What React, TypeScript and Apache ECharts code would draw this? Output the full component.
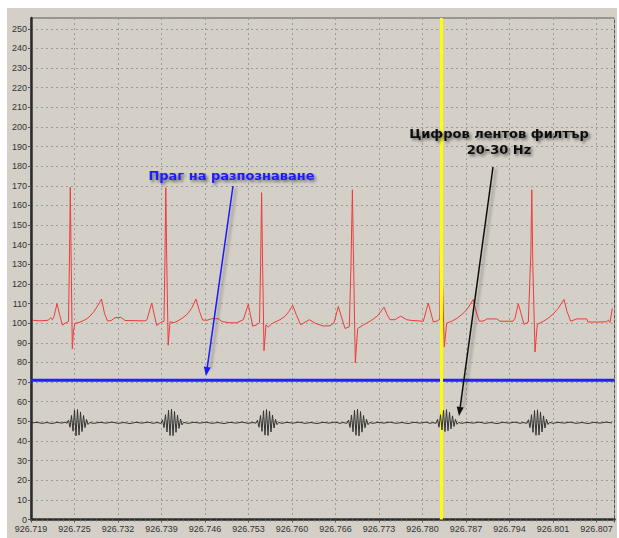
import React, { useEffect, useRef } from "react";
import * as echarts from "echarts";

// x axis: sample index; one labelled tick every tickStep samples
const xTickLabels = [
  "926.719", "926.725", "926.732", "926.739", "926.746", "926.753", "926.760",
  "926.766", "926.773", "926.780", "926.787", "926.794", "926.801", "926.807",
];
const tickStep = 43.5;
const xMax = 583.5;
const yMax = 255.5;
const yStep = 10;
const threshold = 71;
const cursorSample = 410;

const thresholdLabel = "Праг на разпознаване";
const filterLabel = "Цифров лентов филтър\n20-30 Hz";

const ecgSignal: [number, number][] = [
  [2, 101.5], [9, 101.2], [15, 101.4], [17.5, 101.6], [19.5, 102.8], [21.5, 101.8],
  [23, 103.5], [26, 110], [28.5, 104.5], [31.5, 99], [34, 100], [37.5, 100.8],
  [38.5, 135], [39.3, 169.2], [40.2, 130], [41.3, 87], [42.5, 96], [44, 100],
  [47, 100.2], [51, 101], [55, 102], [59, 103.6], [63, 106], [67, 109.2],
  [70.5, 112.3], [73.5, 105], [76.5, 101.2], [80, 101.3], [84, 102.8], [90, 103],
  [94, 101.4], [104, 101.3], [114, 101.2],
  [116, 101.8], [120.7, 110.3], [125.7, 98.8], [129.7, 100.4], [133, 101],
  [134, 135], [134.8, 169], [135.8, 130], [137.2, 88.8], [139, 100.7], [143, 100.3],
  [147, 101.2], [152, 102.8], [157, 105], [161, 108], [165, 112.3], [168.5, 106],
  [171.7, 101.6], [176, 101.5], [180.7, 102.3], [187.3, 102.3], [191, 100.8],
  [199, 100.2], [205.7, 100.2],
  [209, 101], [212.3, 101.8], [217.3, 109.7], [221.7, 98.5], [225.7, 99.2],
  [228.5, 100.2], [229.6, 130], [230.6, 166.5], [231.6, 130], [233, 86], [235, 99.2],
  [237.3, 98], [240.7, 99.7], [245, 100.8], [249, 101.8], [254, 103.5], [258, 106],
  [261.7, 109.2], [265.5, 104], [269.7, 99.2], [274, 100.5], [278.3, 101.8],
  [284, 100], [292, 98.6], [299, 98.7],
  [303, 100.2], [307.3, 108.5], [314, 97.3], [318.3, 98.2], [320, 130], [321.4, 168],
  [322.6, 130], [324.3, 79.8], [326.7, 97.3], [332.3, 99.1], [337, 100.4], [342, 102],
  [347, 104], [353, 108.2], [356, 104.5], [359, 101.8], [364, 101.8], [369.7, 103.6],
  [375.7, 101.8], [380.7, 101.4], [387, 101.2], [392.3, 101],
  [397.3, 110.3], [402.3, 100.6], [406.3, 101.2], [408.8, 102], [409.3, 135],
  [410, 169], [411, 130], [413.3, 88], [415.7, 100], [420.7, 101], [426, 102.5],
  [431, 104.5], [436, 107], [442.3, 112.1], [445, 106], [448.3, 101], [453, 101.2],
  [455.7, 102.2], [465.7, 102.2], [469, 101], [482, 101],
  [484, 102.5], [487.3, 110], [493, 99.4], [497.3, 100.6], [499.8, 135], [500.8, 168],
  [501.8, 130], [504, 85.3], [506.3, 99.4], [512.3, 101], [517, 102.5], [522, 104.6],
  [527, 107.5], [533, 112.1], [536, 106], [539.7, 101], [545.7, 102.2], [555.7, 102.2],
  [557, 100.6], [569, 100.6], [575.7, 100.8], [577.3, 101.6], [579, 100.4], [581.3, 107.5],
];

const filteredSignal: [number, number][] = [
  [1, 49.2], [6, 49.5], [11, 49.0], [16, 49.4], [21, 48.9], [26, 49.5], [31, 49.1], [34, 49.6],
  [36, 49.0], [37.5, 50.6], [39, 47.0], [40.5, 53.0], [42, 45.0], [43.5, 55.8], [45, 42.6],
  [46.5, 56.0], [48, 43.0], [49.5, 54.8], [51, 44.8], [52.5, 53.0], [54, 46.8], [55.5, 51.0],
  [57, 48.4], [58.5, 49.4],
  [63, 49.0], [69, 49.5], [75, 49.1], [81, 49.6], [87, 49.0], [93, 49.4], [99, 48.9],
  [105, 49.5], [111, 49.1], [117, 49.6], [122, 49.0], [126, 49.4],
  [130, 49.0], [131.5, 50.8], [133, 46.8], [134.5, 53.4], [136, 44.6], [137.5, 55.6],
  [139, 42.8], [140.5, 56.3], [142, 42.7], [143.5, 55.0], [145, 44.4], [146.5, 53.2],
  [148, 46.4], [149.5, 51.2], [151, 48.2], [152.5, 49.5],
  [157, 49.0], [163, 49.5], [169, 49.1], [175, 49.6], [181, 49.0], [187, 49.4],
  [193, 48.9], [199, 49.5], [205, 49.1], [211, 49.6], [217, 49.0], [222, 49.4],
  [225, 49.1], [226.5, 50.6], [228, 47.0], [229.5, 53.0], [231, 44.9], [232.5, 55.4],
  [234, 43.0], [235.5, 56.0], [237, 42.8], [238.5, 55.2], [240, 44.6], [241.5, 53.2],
  [243, 46.6], [244.5, 51.0], [246, 48.3], [247.5, 49.5],
  [251, 49.0], [256, 49.5], [262, 49.1], [268, 49.6], [274, 49.0], [280, 49.4],
  [286, 48.9], [292, 49.5], [298, 49.1], [304, 49.6], [309, 49.0], [312, 49.4],
  [316, 49.0], [317.5, 50.7], [319, 46.9], [320.5, 53.2], [322, 44.7], [323.5, 55.6],
  [325, 42.9], [326.5, 56.2], [328, 42.6], [329.5, 55.0], [331, 44.5], [332.5, 53.0],
  [334, 46.7], [335.5, 51.1], [337, 48.3], [338.5, 49.4],
  [342, 49.0], [347, 49.5], [353, 49.1], [359, 49.6], [365, 49.0], [371, 49.4],
  [377, 48.9], [383, 49.5], [389, 49.1], [395, 49.6], [399, 49.0], [402, 49.4],
  [405, 49.0], [406.5, 51.0], [408, 47.0], [409.5, 53.4], [411, 45.6], [412.5, 55.6],
  [414, 44.8], [415.5, 56.0], [417, 45.2], [418.5, 54.6], [420, 46.2], [421.5, 52.8],
  [423, 47.4], [424.5, 51.0], [426, 48.5], [427.5, 49.4],
  [431, 49.0], [436, 49.5], [442, 49.1], [448, 49.6], [454, 49.0], [460, 49.4],
  [466, 48.9], [472, 49.5], [478, 49.1], [484, 49.6], [489, 49.0], [492, 49.4],
  [496, 49.0], [497.5, 50.8], [499, 46.8], [500.5, 53.4], [502, 44.4], [503.5, 55.5],
  [505, 42.9], [506.5, 55.9], [508, 43.0], [509.5, 54.8], [511, 44.6], [512.5, 52.8],
  [514, 46.6], [515.5, 51.0], [517, 48.4], [518.5, 49.5],
  [522, 49.0], [527, 49.5], [533, 49.1], [539, 49.6], [545, 49.0], [551, 49.4],
  [557, 48.9], [563, 49.5], [569, 49.1], [575, 49.6], [581, 49.2],
];

const PANEL = "#d4d0c8";
const GRIDLINE = "#9a9a9a";
const AXIS_FONT = "'Liberation Sans', Arial, sans-serif";
const NOTE_FONT = "'DejaVu Sans', Verdana, sans-serif";

export default function App() {
  const ref = useRef<HTMLDivElement>(null);

  useEffect(() => {
    if (!ref.current) return;
    const chart = echarts.init(ref.current, null, { renderer: "svg" });

    const shadow = {
      shadowColor: "rgba(0,0,0,0.35)",
      shadowBlur: 3,
      shadowOffsetX: 3,
      shadowOffsetY: 2,
    };

    chart.setOption({
      animation: false,
      backgroundColor: "transparent",
      grid: {
        left: 31,
        top: 18,
        right: 4.5,
        bottom: 18.5,
        show: true,
        backgroundColor: PANEL,
        borderColor: "#5a5a5a",
        borderWidth: 1,
      },
      xAxis: {
        type: "value",
        min: 0,
        max: xMax,
        interval: tickStep,
        axisLine: { show: true, onZero: false, lineStyle: { color: "#2b2b2b", width: 2.5 } },
        axisTick: { show: true, length: 3, lineStyle: { color: "#555" } },
        minorTick: { show: true, splitNumber: 8, length: 2, lineStyle: { color: "#777" } },
        axisLabel: {
          showMaxLabel: false,
          color: "#333",
          fontSize: 9,
          fontFamily: AXIS_FONT,
          margin: 5,
          formatter: (v: number) => {
            const i = Math.round(v / tickStep);
            return Math.abs(v - i * tickStep) < 1e-6 ? xTickLabels[i] ?? "" : "";
          },
        },
        splitLine: { show: true, lineStyle: { color: GRIDLINE, type: [2, 3], width: 1 } },
      },
      yAxis: {
        type: "value",
        min: 0,
        max: yMax,
        interval: yStep,
        axisLine: { show: true, onZero: false, lineStyle: { color: "#2b2b2b", width: 2.5 } },
        axisTick: { show: true, length: 3, lineStyle: { color: "#555" } },
        axisLabel: {
          showMaxLabel: false,
          color: "#333",
          fontSize: 9,
          fontFamily: AXIS_FONT,
          margin: 4,
          formatter: (v: number) => (v > 250 ? "" : String(v)),
        },
        splitLine: { show: true, lineStyle: { color: GRIDLINE, type: [2, 3], width: 1 } },
      },
      graphic: [
        {
          type: "line",
          z: 100,
          shape: { x1: 233, y1: 186, x2: 207.3, y2: 367.1 },
          style: { stroke: "#1a1aff", lineWidth: 1.5, ...shadow },
        },
        {
          type: "polygon",
          z: 100,
          shape: { points: [[206, 376], [210.8, 367.6], [203.8, 366.6]] },
          style: { fill: "#1a1aff" },
        },
        {
          type: "line",
          z: 100,
          shape: { x1: 493, y1: 167, x2: 460.2, y2: 407.1 },
          style: { stroke: "#111", lineWidth: 1.5, ...shadow },
        },
        {
          type: "polygon",
          z: 100,
          shape: { points: [[459, 416], [463.7, 407.6], [456.7, 406.6]] },
          style: { fill: "#111" },
        },
        {
          type: "text",
          z: 101,
          x: 231.5,
          y: 175,
          style: {
            text: thresholdLabel,
            fill: "#1a1aff",
            font: `bold 13px ${NOTE_FONT}`,
            align: "center",
            verticalAlign: "middle",
            textShadowColor: "rgba(0,0,0,0.5)",
            textShadowBlur: 3,
            textShadowOffsetX: 2,
            textShadowOffsetY: 2,
          },
        },
        {
          type: "text",
          z: 101,
          x: 499,
          y: 141,
          style: {
            text: filterLabel,
            fill: "#111",
            font: `bold 13px ${NOTE_FONT}`,
            lineHeight: 16,
            align: "center",
            verticalAlign: "middle",
            textShadowColor: "rgba(0,0,0,0.5)",
            textShadowBlur: 3,
            textShadowOffsetX: 2,
            textShadowOffsetY: 2,
          },
        },
      ],
      series: [
        {
          name: "ECG",
          type: "line",
          z: 2,
          data: ecgSignal,
          showSymbol: false,
          symbol: "none",
          lineStyle: { color: "#ee3b3b", width: 1 },
        },
        {
          name: "threshold",
          type: "line",
          z: 3,
          data: [[0, threshold], [xMax, threshold]],
          showSymbol: false,
          symbol: "none",
          silent: true,
          lineStyle: { color: "#1f1fff", width: 3 },
        },
        {
          name: "cursor",
          type: "line",
          z: 4,
          data: [],
          markLine: {
            z: 4,
            silent: true,
            symbol: ["none", "none"],
            label: { show: false },
            lineStyle: { color: "#ffff00", width: 3, type: "solid" },
            data: [{ xAxis: cursorSample }],
          },
        },
        {
          name: "filtered",
          type: "line",
          z: 5,
          data: filteredSignal,
          showSymbol: false,
          symbol: "none",
          lineStyle: { color: "#333", width: 1 },
        },
      ],
    });

    return () => chart.dispose();
  }, []);

  return (
    <div
      style={{
        position: "fixed",
        left: 0,
        top: 0,
        width: 619,
        height: 538,
        background: "#ffffff",
        overflow: "hidden",
      }}
    >
      <div
        style={{
          position: "absolute",
          left: 7,
          top: 8,
          width: 610,
          height: 530,
          background: PANEL,
        }}
      />
      <div ref={ref} style={{ position: "absolute", left: 0, top: 0, width: 619, height: 538 }} />
    </div>
  );
}
